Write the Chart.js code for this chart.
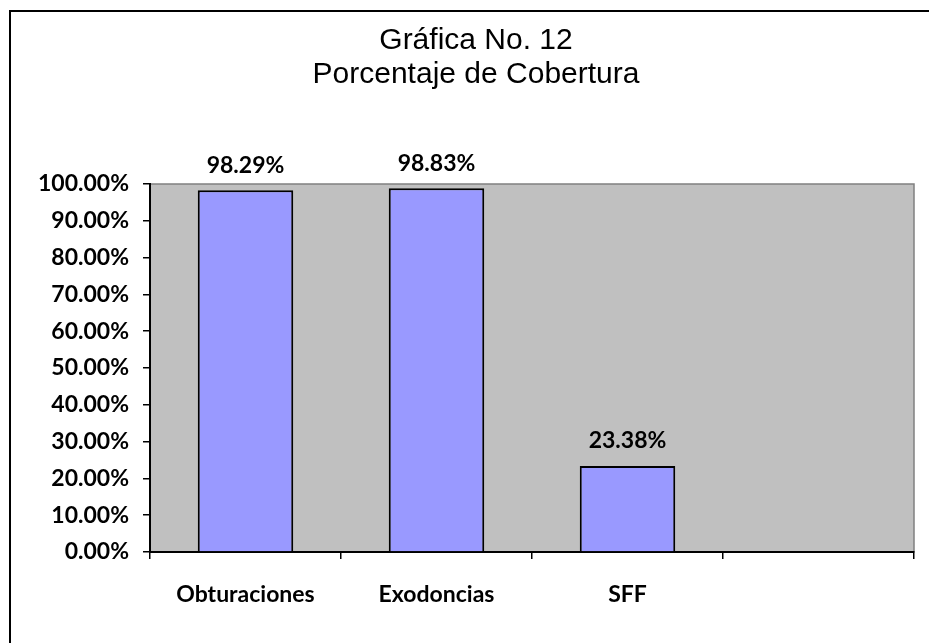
<!DOCTYPE html>
<html>
<head>
<meta charset="utf-8">
<script src="https://cdn.jsdelivr.net/npm/chart.js@4"></script>
<style>
  body { margin: 0; background: #fff; }
  canvas { display: block; }
</style>
</head>
<body>
<canvas id="barChart" width="929" height="643"></canvas>
<script>
const categories = ["Obturaciones", "Exodoncias", "SFF", ""];
const coverage = [98.29, 98.83, 23.38, null];
const titleLines = ["Gráfica No. 12", "Porcentaje de Cobertura"];

const boldFont = "Lato";

// grey plot area + outer frame
const backgroundPlugin = {
  id: "background",
  beforeDraw(chart) {
    const { ctx, chartArea } = chart;
    ctx.save();
    ctx.fillStyle = "#fff";
    ctx.fillRect(0, 0, chart.width, chart.height);
    ctx.strokeStyle = "#000";
    ctx.lineWidth = 2;
    ctx.strokeRect(10, 11, chart.width + 20, chart.height + 20);
    ctx.fillStyle = "#C0C0C0";
    ctx.fillRect(chartArea.left, chartArea.top, chartArea.width, chartArea.height);
    ctx.strokeStyle = "#808080";
    ctx.lineWidth = 1.5;
    ctx.strokeRect(chartArea.left, chartArea.top, chartArea.width, chartArea.height);
    ctx.restore();
  },
};

// value labels above the bars
const valueLabels = {
  id: "valueLabels",
  afterDatasetsDraw(chart) {
    const { ctx } = chart;
    const meta = chart.getDatasetMeta(0);
    ctx.save();
    ctx.font = `bold 23px ${boldFont}`;
    ctx.fillStyle = "#000";
    ctx.textAlign = "center";
    ctx.textBaseline = "middle";
    meta.data.forEach((bar, i) => {
      const v = coverage[i];
      if (v === null) return;
      ctx.fillText(v.toFixed(2) + "%", bar.x, bar.y - 25);
    });
    ctx.restore();
  },
};

const ctx = document.getElementById("barChart").getContext("2d");

new Chart(ctx, {
  type: "bar",
  data: {
    labels: categories,
    datasets: [
      {
        data: coverage,
        backgroundColor: "#9999FF",
        borderColor: "#000",
        borderWidth: 2,
        categoryPercentage: 1,
        barPercentage: 0.5,
      },
    ],
  },
  options: {
    responsive: false,
    animation: false,
    layout: {
      padding: { top: 11, left: 38, right: 15, bottom: 31 },
    },
    plugins: {
      legend: { display: false },
      tooltip: { enabled: false },
      title: {
        display: true,
        text: titleLines,
        color: "#000",
        font: { family: "Liberation Sans", size: 30, weight: "normal", lineHeight: 1.15 },
        padding: { top: 12, bottom: 92 },
      },
    },
    scales: {
      x: {
        offset: true,
        afterFit(scale) {
          scale.height = 60;
        },
        grid: {
          offset: true,
          drawOnChartArea: false,
          drawTicks: true,
          tickLength: 7,
          color: "#000",
          lineWidth: 1.5,
        },
        border: { color: "#000", width: 2 },
        ticks: {
          color: "#000",
          padding: 22,
          maxRotation: 0,
          font: { family: boldFont, size: 23, weight: "bold" },
        },
      },
      y: {
        min: 0,
        max: 100,
        afterFit(scale) {
          scale.width = 112;
        },
        grid: {
          drawOnChartArea: false,
          drawTicks: true,
          tickLength: 7,
          color: "#000",
          lineWidth: 1.5,
        },
        border: { color: "#000", width: 2 },
        ticks: {
          stepSize: 10,
          color: "#000",
          padding: 14,
          font: { family: boldFont, size: 23, weight: "bold" },
          callback: (v) => v.toFixed(2) + "%",
        },
      },
    },
  },
  plugins: [backgroundPlugin, valueLabels],
});
</script>
</body>
</html>
